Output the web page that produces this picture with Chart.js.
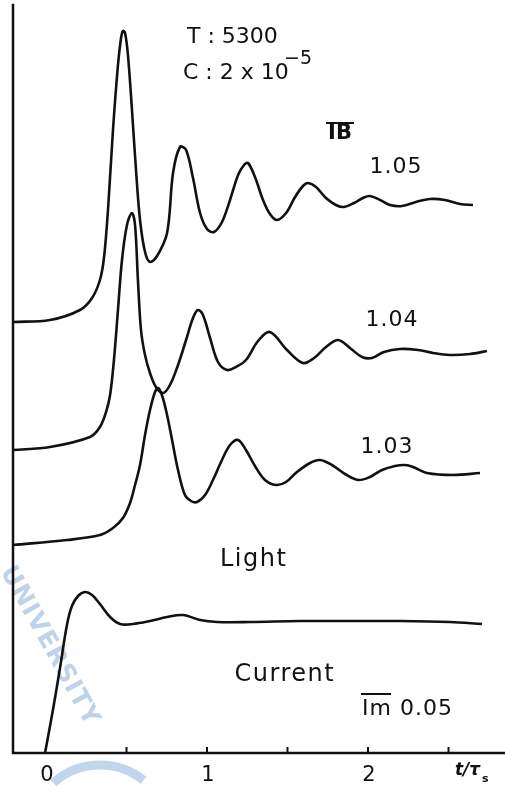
<!DOCTYPE html>
<html>
<head>
<meta charset="utf-8">
<script src="https://cdn.jsdelivr.net/npm/chart.js@4.4.0/dist/chart.umd.min.js"></script>
<style>
  html, body { margin: 0; padding: 0; background: #fff; }
  #wrap { width: 505px; height: 792px; position: relative; }
</style>
</head>
<body>
<div id="wrap"><canvas id="chart"></canvas></div>
<script>
// time axis in units of t/τs, response in arbitrary (offset) units
const t105 = [-0.205, 0.025, 0.211, 0.286, 0.335, 0.360, 0.385, 0.416, 0.447, 0.466, 0.478, 0.491, 0.509, 0.534, 0.559, 0.584, 0.615, 0.646, 0.690, 0.752, 0.789, 0.832, 0.870, 0.913, 0.957, 1.000, 1.043, 1.093, 1.143, 1.193, 1.230, 1.255, 1.298, 1.348, 1.391, 1.435, 1.491, 1.547, 1.596, 1.627, 1.677, 1.739, 1.801, 1.851, 1.913, 1.969, 2.012, 2.075, 2.137, 2.211, 2.298, 2.385, 2.478, 2.571, 2.652];
const y105 = [4.31, 4.33, 4.43, 4.55, 4.73, 4.95, 5.43, 6.23, 6.88, 7.15, 7.22, 7.20, 6.98, 6.43, 5.83, 5.33, 5.01, 4.91, 4.97, 5.20, 5.80, 6.06, 6.03, 5.75, 5.40, 5.24, 5.21, 5.31, 5.53, 5.78, 5.88, 5.90, 5.76, 5.53, 5.39, 5.33, 5.40, 5.56, 5.67, 5.70, 5.66, 5.55, 5.48, 5.46, 5.50, 5.55, 5.57, 5.53, 5.48, 5.47, 5.51, 5.54, 5.53, 5.49, 5.48];

const t104 = [-0.205, 0.025, 0.273, 0.335, 0.373, 0.398, 0.422, 0.447, 0.472, 0.503, 0.534, 0.553, 0.571, 0.590, 0.615, 0.646, 0.683, 0.727, 0.770, 0.820, 0.870, 0.913, 0.944, 0.975, 1.019, 1.068, 1.124, 1.180, 1.242, 1.317, 1.391, 1.497, 1.596, 1.665, 1.739, 1.814, 1.888, 1.963, 2.025, 2.099, 2.199, 2.311, 2.404, 2.509, 2.634, 2.739];
const y104 = [3.03, 3.06, 3.16, 3.26, 3.41, 3.58, 3.93, 4.43, 4.93, 5.28, 5.40, 5.28, 4.73, 4.23, 3.98, 3.80, 3.66, 3.60, 3.68, 3.88, 4.13, 4.35, 4.43, 4.38, 4.15, 3.91, 3.83, 3.86, 3.93, 4.12, 4.21, 4.03, 3.90, 3.95, 4.06, 4.13, 4.05, 3.96, 3.95, 4.01, 4.04, 4.03, 4.00, 3.98, 3.99, 4.02];

const t103 = [-0.205, 0.130, 0.335, 0.416, 0.478, 0.522, 0.553, 0.584, 0.615, 0.646, 0.677, 0.696, 0.720, 0.752, 0.783, 0.820, 0.863, 0.901, 0.938, 0.988, 1.037, 1.093, 1.143, 1.193, 1.242, 1.298, 1.360, 1.429, 1.491, 1.559, 1.640, 1.702, 1.776, 1.857, 1.938, 2.012, 2.087, 2.168, 2.230, 2.280, 2.366, 2.530, 2.696];
const y103 = [2.08, 2.13, 2.18, 2.25, 2.35, 2.50, 2.68, 2.88, 3.18, 3.43, 3.61, 3.65, 3.58, 3.38, 3.13, 2.83, 2.58, 2.52, 2.51, 2.58, 2.73, 2.93, 3.08, 3.13, 3.03, 2.87, 2.73, 2.68, 2.71, 2.81, 2.90, 2.93, 2.88, 2.79, 2.73, 2.76, 2.83, 2.87, 2.88, 2.86, 2.80, 2.78, 2.80];

const tCur = [-0.006, 0.043, 0.087, 0.130, 0.161, 0.199, 0.242, 0.286, 0.335, 0.398, 0.460, 0.540, 0.646, 0.752, 0.851, 0.957, 1.062, 1.267, 1.578, 1.888, 2.199, 2.509, 2.708];
const yCur = [0.00, 0.43, 0.85, 1.28, 1.47, 1.57, 1.61, 1.58, 1.49, 1.36, 1.29, 1.29, 1.32, 1.36, 1.38, 1.33, 1.31, 1.31, 1.32, 1.32, 1.32, 1.31, 1.29];

const xTickLabels = [0, 1, 2];
const xMinorTicks = [0.5, 1, 1.5, 2, 2.5];
const curveLabels = ['1.05', '1.04', '1.03'];

const pts = (ts, ys) => ts.map((t, i) => ({ x: t, y: ys[i] }));

const FONT = '"DejaVu Sans", sans-serif';
const INK = '#111';

function txt(ctx, s, px, py, size, align) {
  ctx.font = size + 'px ' + FONT;
  ctx.textAlign = align || 'left';
  ctx.textBaseline = 'middle';
  ctx.fillText(s, px, py);
}

// faint watermark of the scanned page
const watermark = {
  id: 'watermark',
  beforeDatasetsDraw(chart) {
    const ctx = chart.ctx;
    ctx.save();
    ctx.fillStyle = 'rgba(170,195,228,0.75)';
    ctx.translate(6, 568);
    ctx.rotate(61 * Math.PI / 180);
    ctx.font = 'bold 25px ' + FONT;
    ctx.letterSpacing = '1px';
    ctx.textBaseline = 'middle';
    ctx.fillText('UNIVERSITY', 0, 0);
    ctx.restore();
    ctx.save();
    ctx.strokeStyle = 'rgba(170,195,228,0.7)';
    ctx.lineWidth = 9;
    ctx.beginPath();
    ctx.arc(100, 835, 70, -2.3, -0.9);
    ctx.stroke();
    ctx.restore();
  }
};

const frame = {
  id: 'frame',
  afterDraw(chart) {
    const ctx = chart.ctx;
    const x = chart.scales.x, y = chart.scales.y;
    const area = chart.chartArea;
    const X = v => x.getPixelForValue(v);
    const Y = v => y.getPixelForValue(v);
    ctx.save();
    ctx.strokeStyle = INK;
    ctx.fillStyle = INK;
    ctx.lineWidth = 2.5;
    ctx.lineCap = 'square';
    // axes
    ctx.beginPath();
    ctx.moveTo(area.left, area.top);
    ctx.lineTo(area.left, area.bottom);
    ctx.lineTo(area.right, area.bottom);
    ctx.stroke();
    // tick marks pointing up
    ctx.lineWidth = 2;
    xMinorTicks.forEach(v => {
      ctx.beginPath();
      ctx.moveTo(X(v), area.bottom);
      ctx.lineTo(X(v), area.bottom - 5);
      ctx.stroke();
    });
    xTickLabels.forEach(v => txt(ctx, String(v), X(v) + 1, area.bottom + 23, 21, 'center'));
    // t/τs
    ctx.font = 'italic bold 17px ' + FONT;
    ctx.textAlign = 'left';
    ctx.textBaseline = 'middle';
    ctx.fillText('t/τ', X(2.54), area.bottom + 18);
    ctx.font = 'bold 11px ' + FONT;
    ctx.fillText('s', X(2.54) + 27, area.bottom + 26);

    // parameters
    txt(ctx, 'T : 5300', X(0.876), Y(7.16), 22);
    txt(ctx, 'C : 2 x 10', X(0.851), Y(6.80), 22);
    ctx.font = '19px ' + FONT;
    ctx.fillText('−5', X(0.851) + 101, Y(6.94));

    // IB with overline
    ctx.font = 'bold 21px ' + FONT;
    ctx.textAlign = 'center';
    ctx.fillText('IB', X(1.826), Y(6.19));
    ctx.lineWidth = 2;
    ctx.beginPath();
    ctx.moveTo(X(1.826) - 13, Y(6.19) - 11);
    ctx.lineTo(X(1.826) + 13, Y(6.19) - 11);
    ctx.stroke();

    const labelPos = [[2.174, 5.86], [2.149, 4.33], [2.118, 3.06]];
    curveLabels.forEach((s, i) => {
      ctx.letterSpacing = '1px';
      txt(ctx, s, X(labelPos[i][0]), Y(labelPos[i][1]), 22, 'center');
    });
    ctx.letterSpacing = '1.5px';
    txt(ctx, 'Light', X(1.29), Y(1.93), 24, 'center');
    txt(ctx, 'Current', X(1.484), Y(0.78), 24, 'center');
    ctx.letterSpacing = '1px';
    txt(ctx, 'Im 0.05', X(1.963), Y(0.44), 22, 'left');
    ctx.lineWidth = 2;
    ctx.beginPath();
    ctx.moveTo(X(1.963), Y(0.44) - 15);
    ctx.lineTo(X(1.963) + 28, Y(0.44) - 15);
    ctx.stroke();
    ctx.restore();
  }
};

const lineStyle = {
  borderColor: INK,
  borderWidth: 2.6,
  pointRadius: 0,
  fill: false,
  tension: 0.35
};

new Chart(document.getElementById('chart'), {
  type: 'line',
  data: {
    datasets: [
      { label: '1.05', data: pts(t105, y105), ...lineStyle },
      { label: '1.04', data: pts(t104, y104), ...lineStyle },
      { label: '1.03', data: pts(t103, y103), ...lineStyle },
      { label: 'Current', data: pts(tCur, yCur), ...lineStyle }
    ]
  },
  options: {
    responsive: true,
    maintainAspectRatio: false,
    animation: false,
    devicePixelRatio: 1,
    layout: { padding: { left: 13, right: 0, top: 5, bottom: 39 } },
    scales: {
      x: { type: 'linear', min: -0.205, max: 2.851, display: false },
      y: { type: 'linear', min: 0, max: 7.48, display: false }
    },
    plugins: {
      legend: { display: false },
      tooltip: { enabled: false }
    }
  },
  plugins: [watermark, frame]
});
</script>
</body>
</html>
